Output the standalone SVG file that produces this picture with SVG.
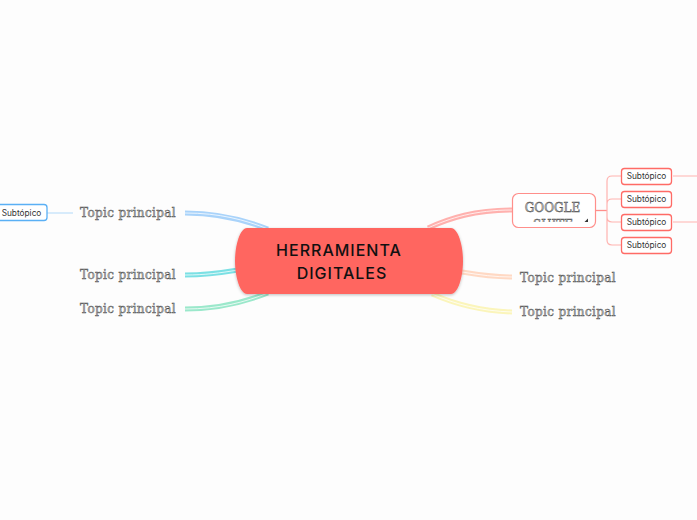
<svg xmlns="http://www.w3.org/2000/svg" width="697" height="520" viewBox="0 0 697 520">
<style>
.l{fill:none;stroke-width:5}
.i{fill:none;stroke:#fff;stroke-width:1;stroke-opacity:.75}
.t{font-family:"DejaVu Serif",serif;font-size:12px;font-weight:400;letter-spacing:.36px;fill:#c8c8c8;stroke:#4a4a4a;stroke-width:.45px}
.g{letter-spacing:0}
.s{fill:#fff;stroke:#ff6b66;stroke-width:1.300}
.st{font-family:"Inter","Noto Sans",sans-serif;font-size:8.300px;fill:#333;text-anchor:middle}
.c{fill:none;stroke:#ffb3b0;stroke-width:1.200}
</style>
<defs>
<filter id="sh" x="-5%" y="-10%" width="110%" height="125%"><feDropShadow dx="0" dy="1" stdDeviation="1.800" flood-color="#000" flood-opacity=".25"/></filter>
<clipPath id="gc"><rect x="513" y="194" width="82" height="28"/></clipPath>
</defs>
<rect width="697" height="520" fill="#fdfdfd"/>
<g id="connectors">
<path class="l" stroke="#a9d3fa" d="M185 213C220 213 245 220 268 229"/><path class="i" d="M185 213C220 213 245 220 268 229"/>
<path class="l" stroke="#7be0e4" d="M185 275C205 275 220 273 238 270"/><path class="i" d="M185 275C205 275 220 273 238 270"/>
<path class="l" stroke="#9be8cb" d="M185 309C220 309 245 302 268 293"/><path class="i" d="M185 309C220 309 245 302 268 293"/>
<path class="l" stroke="#ffb1ae" d="M512 210C475 210 450 218 428 228"/><path class="i" d="M512 210C475 210 450 218 428 228"/>
<path class="l" stroke="#ffd9c4" d="M512 277C495 277 480 275 462 272"/><path class="i" d="M512 277C495 277 480 275 462 272"/>
<path class="l" stroke="#fbf5bb" d="M512 312C480 311 455 304 432 294"/><path class="i" d="M512 312C480 311 455 304 432 294"/>
<path d="M596 210.500H607" fill="none" stroke="#ff8f8b" stroke-width="1.300"/>
<path class="c" d="M621 176H612Q607 176 607 181V240Q607 245 612 245H621M607 204Q607 199 612 199H621M607 217Q607 222 612 222H621"/>
<path class="c" d="M673 176H697M673 222H697"/>
<path d="M47 213H73" fill="none" stroke="#bfe0fb" stroke-width="1.200"/>
</g>
<g id="n-central"><path d="M247 228H451C458 228 463 245 463 261C463 277 458 294 451 294H247C240 294 235 277 235 261C235 245 240 228 247 228Z" fill="#ff6661" filter="url(#sh)"/>
<text font-family="Inter,'Noto Sans',sans-serif" font-size="16px" font-weight="500" letter-spacing="1px" fill="#111" text-anchor="middle"><tspan x="339" y="255.500">HERRAMIENTA</tspan><tspan x="342" y="278.500">DIGITALES</tspan></text></g>
<g id="n-left1"><text class="t" x="80" y="217">Topic principal</text></g>
<g id="n-left2"><text class="t" x="80" y="279">Topic principal</text></g>
<g id="n-left3"><text class="t" x="80" y="313">Topic principal</text></g>
<g id="n-right2"><text class="t" x="520" y="282">Topic principal</text></g>
<g id="n-right3"><text class="t" x="520" y="316">Topic principal</text></g>
<g id="n-google"><rect x="512.500" y="193.500" width="83" height="34" rx="6" fill="#fff" stroke="#ff8f8b" stroke-width="1.200"/>
<g clip-path="url(#gc)"><text class="t g" x="552.500" y="211.500" text-anchor="middle">GOOGLE</text><text class="t g" x="553" y="228.500" text-anchor="middle">SUITE</text></g>
<path d="M588 218.500V222H584.500Z" fill="#333"/></g>
<g id="n-sub1"><rect class="s" x="621.500" y="168.500" width="50" height="16" rx="3"/><text class="st" x="646.500" y="179">Subtópico</text></g>
<g id="n-sub2"><rect class="s" x="621.500" y="191.500" width="50" height="16" rx="3"/><text class="st" x="646.500" y="202">Subtópico</text></g>
<g id="n-sub3"><rect class="s" x="621.500" y="214.500" width="50" height="16" rx="3"/><text class="st" x="646.500" y="225">Subtópico</text></g>
<g id="n-sub4"><rect class="s" x="621.500" y="237.500" width="50" height="16" rx="3"/><text class="st" x="646.500" y="248">Subtópico</text></g>
<g id="n-subl"><rect x="-6" y="204.500" width="53" height="16" rx="3" fill="#fff" stroke="#5ab0f5" stroke-width="1.300"/><text class="st" x="21.500" y="216">Subtópico</text></g>
</svg>
